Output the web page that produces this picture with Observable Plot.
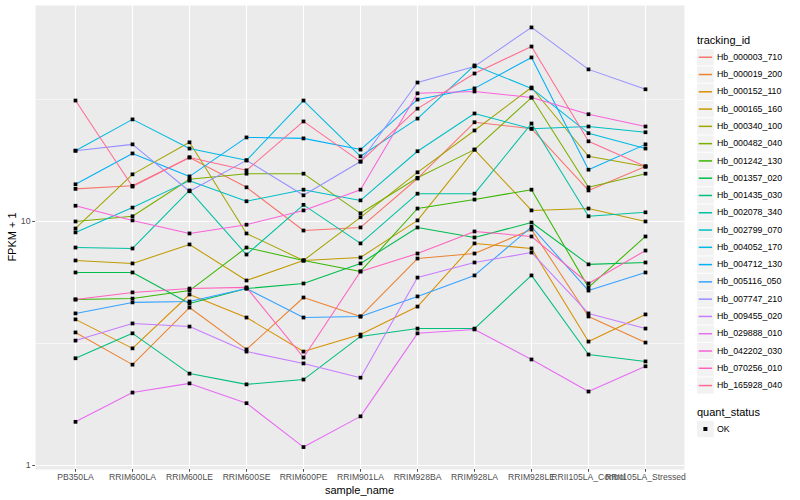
<!DOCTYPE html>
<html>
<head>
<meta charset="utf-8">
<script src="https://cdn.jsdelivr.net/npm/d3@7"></script>
<script src="https://cdn.jsdelivr.net/npm/@observablehq/plot@0.6"></script>
<style>
  body { margin: 0; background: white; }
  #wrap { position: relative; width: 800px; height: 500px; font-family: "Liberation Sans", Arial, sans-serif; }
  .abs { position: absolute; white-space: nowrap; line-height: 1; }
</style>
</head>
<body>
<div id="wrap"></div>
<script>
// ---- data ----
const samples = ["PB350LA","RRIM600LA","RRIM600LE","RRIM600SE","RRIM600PE","RRIM901LA","RRIM928BA","RRIM928LA","RRIM928LE","RRII105LA_Control","RRII105LA_Stressed"];
const trackingIds = ["Hb_000003_710","Hb_000019_200","Hb_000152_110","Hb_000165_160","Hb_000340_100","Hb_000482_040","Hb_001242_130","Hb_001357_020","Hb_001435_030","Hb_002078_340","Hb_002799_070","Hb_004052_170","Hb_004712_130","Hb_005116_050","Hb_007747_210","Hb_009455_020","Hb_029888_010","Hb_042202_030","Hb_070256_010","Hb_165928_040"];
const hueColors = ["#F8766D","#EA8331","#D89000","#C09B00","#A3A500","#7CAE00","#39B600","#00BB4E","#00BF7D","#00C1A3","#00BFC4","#00BAE0","#00B0F6","#35A2FF","#9590FF","#C77CFF","#E76BF3","#FA62DB","#FF62BC","#FF6C91"];
const yTicks = [1, 10];

// FPKM + 1 per sample (order of samples)
const Hb_000003_710 = [13.6,14.0,18.3,13.8,9.18,9.45,15.0,25.5,24.0,13.4,16.8];
const Hb_000019_200 = [3.51,2.59,4.44,2.99,4.88,4.08,7.05,7.39,9.27,4.08,3.19];
const Hb_000152_110 = [3.97,3.02,5.02,4.04,2.93,3.44,4.48,8.13,7.75,3.22,4.16];
const Hb_000165_160 = [6.92,6.73,8.05,5.73,6.92,7.12,10.1,19.7,11.1,11.3,10.0];
const Hb_000340_100 = [9.36,15.6,21.1,8.93,6.92,10.4,15.9,23.6,35.4,18.5,16.8];
const Hb_000482_040 = [10.0,10.5,14.9,15.7,15.7,10.8,15.1,19.7,32.2,13.8,15.7];
const Hb_001242_130 = [4.79,4.83,5.21,7.82,6.92,6.24,11.3,12.3,13.5,5.37,8.68];
const Hb_001357_020 = [6.18,6.18,4.61,5.31,5.57,6.73,9.45,8.60,9.9,6.67,6.79];
const Hb_001435_030 = [2.75,3.48,2.38,2.15,2.25,3.38,3.64,3.64,6.01,2.85,2.67];
const Hb_002078_340 = [7.82,7.75,13.4,7.32,11.7,8.13,13.0,13.0,25.2,10.5,10.9];
const Hb_002799_070 = [9.02,11.4,14.7,12.1,13.5,12.2,19.4,27.7,24.0,24.5,23.2];
const Hb_004052_170 = [19.5,26.2,19.9,17.8,31.3,18.5,26.4,43.6,35.1,23.0,19.9];
const Hb_004712_130 = [14.2,19.0,15.3,22.1,21.9,19.7,31.6,35.1,47.0,16.3,20.7];
const Hb_005116_050 = [4.20,4.66,4.70,5.31,4.04,4.08,4.93,6.01,9.5,5.21,6.18];
const Hb_007747_210 = [19.5,20.7,13.3,17.8,12.8,17.6,37.1,43.2,62.4,42.0,34.8];
const Hb_009455_020 = [3.25,3.82,3.71,2.93,2.62,2.29,5.89,6.79,7.46,4.20,3.64];
const Hb_029888_010 = [1.51,1.99,2.17,1.80,1.19,1.59,3.48,3.61,2.72,2.01,2.55];
const Hb_042202_030 = [11.6,10.1,8.93,9.7,11.1,13.5,33.5,34.1,32.2,27.5,24.5];
const Hb_070256_010 = [4.79,5.12,5.31,5.37,2.77,6.24,7.39,9.10,8.68,5.57,7.60];
const Hb_165928_040 = [31.3,13.9,18.3,16.2,25.7,17.6,29.0,40.4,52.1,21.3,16.8];

const seriesValues = [Hb_000003_710,Hb_000019_200,Hb_000152_110,Hb_000165_160,Hb_000340_100,Hb_000482_040,Hb_001242_130,Hb_001357_020,Hb_001435_030,Hb_002078_340,Hb_002799_070,Hb_004052_170,Hb_004712_130,Hb_005116_050,Hb_007747_210,Hb_009455_020,Hb_029888_010,Hb_042202_030,Hb_070256_010,Hb_165928_040];

const rows = [];
trackingIds.forEach((id, i) => {
  seriesValues[i].forEach((v, j) => rows.push({id, sample: samples[j], v, status: "OK"}));
});

const W = 800, H = 500;
const mL = 35, mR = 116, mT = 5, mB = 31;

const chart = Plot.plot({
  width: W, height: H,
  marginLeft: mL, marginRight: mR, marginTop: mT, marginBottom: mB,
  style: {fontFamily: "'Liberation Sans', Arial, sans-serif", background: "white", overflow: "visible"},
  x: {type: "point", domain: samples, padding: 0.6},
  y: {type: "log", domain: [Math.pow(10, -0.0164), Math.pow(10, 1.885)]},
  color: {domain: trackingIds, range: hueColors},
  marks: [
    Plot.frame({fill: "#EBEBEB", stroke: "none"}),
    Plot.gridY([Math.sqrt(10), Math.sqrt(1000)], {stroke: "white", strokeOpacity: 1, strokeWidth: 0.55}),
    Plot.gridY(yTicks, {stroke: "white", strokeOpacity: 1, strokeWidth: 1.1}),
    Plot.gridX(samples, {stroke: "white", strokeOpacity: 1, strokeWidth: 1.1}),
    Plot.line(rows, {x: "sample", y: "v", z: "id", stroke: "id", strokeWidth: 1.05}),
    Plot.dot(rows, {x: "sample", y: "v", symbol: "square", r: 2.1, fill: "black", stroke: "none"}),
    Plot.axisX({label: null, tickSize: 2.75, tickPadding: 2, fontSize: 8.6, color: "#4D4D4D"}),
    Plot.axisY(yTicks, {label: null, tickSize: 2.75, tickPadding: 2.2, fontSize: 8.8, color: "#4D4D4D", tickFormat: d => String(d)})
  ]
});

const wrap = document.getElementById("wrap");
chart.style.position = "absolute";
chart.style.left = "0px";
chart.style.top = "0px";
wrap.appendChild(chart);

function addText(txt, x, y, size, opts = {}) {
  const d = document.createElement("div");
  d.className = "abs";
  d.textContent = txt;
  d.style.fontSize = size + "px";
  d.style.left = x + "px";
  d.style.top = (y - size / 2) + "px";
  d.style.color = opts.color || "black";
  if (opts.center) d.style.transform = "translateX(-50%)";
  wrap.appendChild(d);
  return d;
}

// axis titles
addText("sample_name", 359.5, 490, 11, {center: true});
const yl = document.createElement("div");
yl.className = "abs";
yl.textContent = "FPKM + 1";
yl.style.fontSize = "11px";
yl.style.left = "12px";
yl.style.top = "237px";
yl.style.transform = "translate(-50%, -50%) rotate(-90deg)";
wrap.appendChild(yl);

// legend drawn as a small SVG overlay (crisp key lines)
const ns = "http://www.w3.org/2000/svg";
const leg = document.createElementNS(ns, "svg");
leg.setAttribute("width", 110);
leg.setAttribute("height", 460);
leg.style.position = "absolute";
leg.style.left = "690px";
leg.style.top = "0px";
wrap.appendChild(leg);
const keySize = 17.28, firstKeyTop = 48.6, kx = 7;
function rect(x, y, w, h, fill) {
  const r = document.createElementNS(ns, "rect");
  r.setAttribute("x", x); r.setAttribute("y", y);
  r.setAttribute("width", w); r.setAttribute("height", h);
  r.setAttribute("fill", fill);
  leg.appendChild(r);
  return r;
}
function line(x1, x2, y, color) {
  const l = document.createElementNS(ns, "line");
  l.setAttribute("x1", x1); l.setAttribute("x2", x2);
  l.setAttribute("y1", y); l.setAttribute("y2", y);
  l.setAttribute("stroke", color);
  l.setAttribute("stroke-width", 1.5);
  leg.appendChild(l);
}
addText("tracking_id", 697, 40.7, 11);
trackingIds.forEach((id, i) => {
  const top = firstKeyTop + i * keySize;
  rect(kx, top + 0.5, keySize - 0.5, keySize - 1, "#F2F2F2");
  line(kx + 1.7, kx + keySize - 2.2, top + keySize / 2, hueColors[i]);
  addText(id, 717, top + keySize / 2, 8.8);
});

addText("quant_status", 697, 412, 11);
const qTop = 429 - keySize / 2;
rect(kx, qTop + 0.5, keySize - 0.5, keySize - 1, "#F2F2F2");
rect(kx + keySize / 2 - 2.25, 429 - 2, 4, 4, "black");
addText("OK", 717, 429, 8.8);
</script>
</body>
</html>
